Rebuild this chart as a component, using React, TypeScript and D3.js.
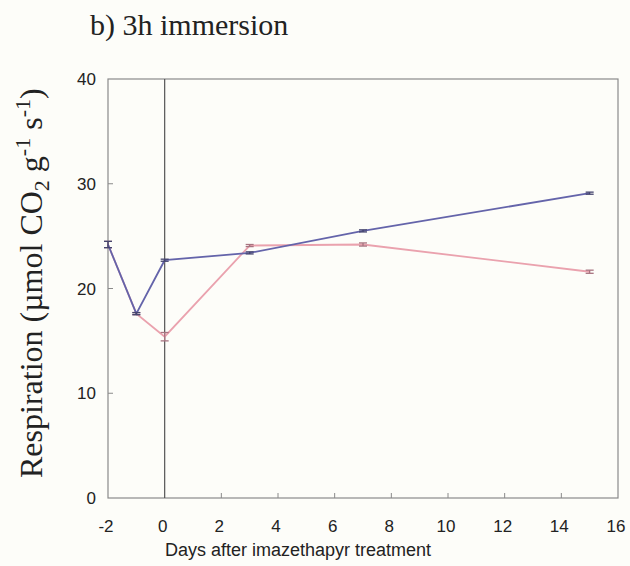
import { useEffect, useRef } from "react";
import * as d3 from "d3";

const days = [-2, -1, 0, 3, 7, 15];
const blueValues = [24.2, 17.6, 22.7, 23.4, 25.5, 29.1];
const blueErrors = [0.3, 0.1, 0.1, 0.1, 0.1, 0.1];
const pinkValues = [24.2, 17.6, 15.4, 24.1, 24.2, 21.6];
const pinkErrors = [0.3, 0.1, 0.4, 0.1, 0.15, 0.15];
const xTickLabels = [-2, 0, 2, 4, 6, 8, 10, 12, 14, 16];
const xInnerTicks = [2, 4, 6, 8, 10, 12, 14];
const yTickLabels = [0, 10, 20, 30, 40];
const yInnerTicks = [10, 20, 30];

const W = 630, H = 566;
const M = { top: 79, right: 12, bottom: 68, left: 108 };

export default function App() {
  const ref = useRef<SVGSVGElement>(null);

  useEffect(() => {
    document.body.style.margin = "0";
    document.body.style.overflow = "hidden";
    const el = ref.current;
    if (!el) return;
    const svg = d3.select(el);
    svg.selectAll("*").remove();

    const x = d3.scaleLinear().domain([-2, 16]).range([M.left, W - M.right]);
    const y = d3.scaleLinear().domain([0, 40]).range([H - M.bottom, M.top]);

    svg.append("rect").attr("width", W).attr("height", H).attr("fill", "#fdfdf9");

    // title
    svg.append("text").attr("x", 90).attr("y", 35)
      .attr("font-family", "'Liberation Serif', 'Times New Roman', serif").attr("font-size", 30)
      .attr("fill", "#222").text("b) 3h immersion");

    // frame
    svg.append("rect").attr("x", x(-2)).attr("y", y(40))
      .attr("width", x(16) - x(-2)).attr("height", y(0) - y(40))
      .attr("fill", "none").attr("stroke", "#8a8a8a").attr("stroke-width", 1.2);

    // vertical line at day 0
    svg.append("line").attr("x1", x(0)).attr("x2", x(0)).attr("y1", y(40)).attr("y2", y(0))
      .attr("stroke", "#555").attr("stroke-width", 1.2);

    // inner ticks
    svg.selectAll("line.xt").data(xInnerTicks).join("line")
      .attr("x1", (d) => x(d)).attr("x2", (d) => x(d)).attr("y1", y(0)).attr("y2", y(0) - 5)
      .attr("stroke", "#8a8a8a");
    svg.selectAll("line.yt").data(yInnerTicks).join("line")
      .attr("x1", x(-2)).attr("x2", x(-2) + 5).attr("y1", (d) => y(d)).attr("y2", (d) => y(d))
      .attr("stroke", "#8a8a8a");

    const sans = "'Liberation Sans', Arial, sans-serif";
    svg.append("g").selectAll("text").data(xTickLabels).join("text")
      .attr("x", (d) => x(d) - 2).attr("y", 532).attr("text-anchor", "middle")
      .attr("font-family", sans).attr("font-size", 17).attr("fill", "#222").text((d) => d);
    svg.append("g").selectAll("text").data(yTickLabels).join("text")
      .attr("x", 96).attr("y", (d) => y(d) + 6).attr("text-anchor", "end")
      .attr("font-family", sans).attr("font-size", 17).attr("fill", "#222").text((d) => d);

    svg.append("text").attr("x", 165).attr("y", 556)
      .attr("font-family", sans).attr("font-size", 18).attr("fill", "#222")
      .text("Days after imazethapyr treatment");

    // y label
    const yl = svg.append("text").attr("transform", "translate(42,478) rotate(-90)")
      .attr("font-family", "'Liberation Serif', 'Times New Roman', serif").attr("font-size", 32)
      .attr("fill", "#222");
    yl.append("tspan").text("Respiration (\u00b5mol CO");
    yl.append("tspan").attr("font-size", 22).attr("dy", 7).text("2");
    yl.append("tspan").attr("dy", -7).text(" g");
    yl.append("tspan").attr("font-size", 22).attr("dy", -12).text("-1");
    yl.append("tspan").attr("dy", 12).text(" s");
    yl.append("tspan").attr("font-size", 22).attr("dy", -12).text("-1");
    yl.append("tspan").attr("dy", 12).text(")");

    const series = [
      { values: pinkValues, errors: pinkErrors, line: "#eaa2ae", mark: "#a87480" },
      { values: blueValues, errors: blueErrors, line: "#6464aa", mark: "#45456e" },
    ];
    const line = d3.line<number>().x((_, i) => x(days[i])).y((d) => y(d));
    series.forEach((s) => {
      svg.append("path").attr("d", line(s.values)).attr("fill", "none")
        .attr("stroke", s.line).attr("stroke-width", 1.8);
      const g = svg.append("g").attr("stroke", s.mark).attr("stroke-width", 1.3);
      s.values.forEach((v, i) => {
        const cx = x(days[i]);
        g.append("line").attr("x1", cx).attr("x2", cx).attr("y1", y(v + s.errors[i])).attr("y2", y(v - s.errors[i]));
        g.append("line").attr("x1", cx - 4).attr("x2", cx + 4).attr("y1", y(v + s.errors[i])).attr("y2", y(v + s.errors[i]));
        g.append("line").attr("x1", cx - 4).attr("x2", cx + 4).attr("y1", y(v - s.errors[i])).attr("y2", y(v - s.errors[i]));
      });
    });
  }, []);

  return <svg ref={ref} width={W} height={H} style={{ display: "block" }} />;
}
